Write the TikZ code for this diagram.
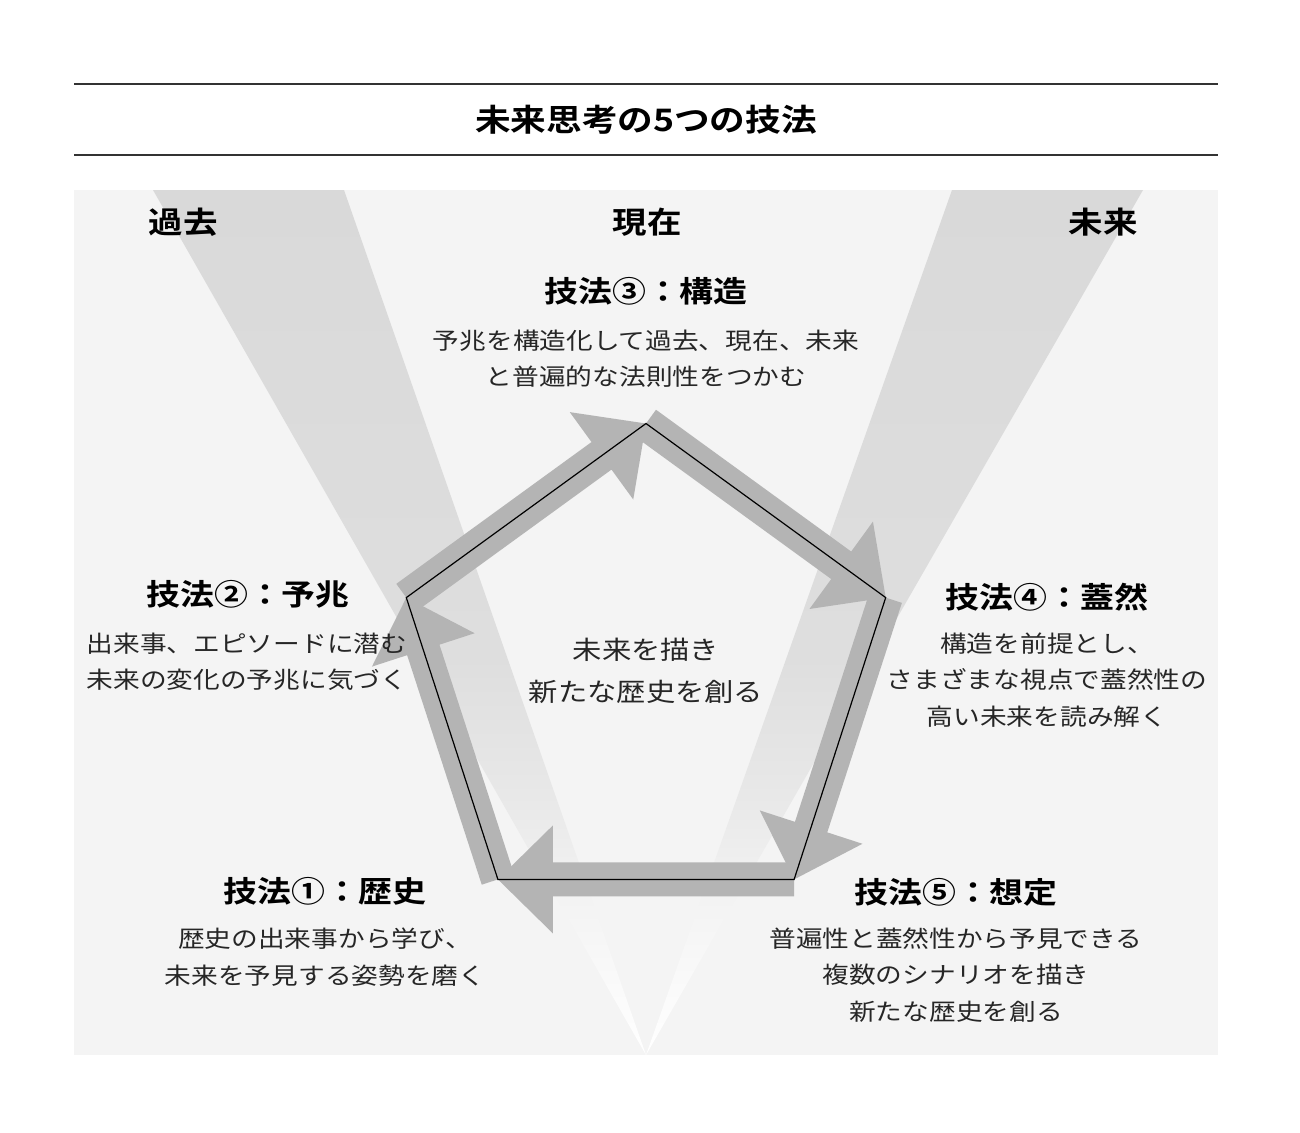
\documentclass[tikz,border=0pt]{standalone}
\usepackage{fontspec}
\setmainfont{Noto Sans CJK JP}[FakeStretch=1.15, BoldFont={Noto Sans CJK JP Bold}]
\usetikzlibrary{calc}
\definecolor{bgpanel}{HTML}{F4F4F4}
\definecolor{arrowgray}{HTML}{B4B4B4}
\definecolor{rulegray}{HTML}{333333}
\definecolor{bmA}{HTML}{F3F3F3}
\definecolor{bmB}{HTML}{E8E8E8}
\definecolor{bmC}{HTML}{DEDEDE}
\definecolor{bmD}{HTML}{D9D9D9}
\definecolor{bodytext}{HTML}{262626}
\pgfdeclareverticalshading{beamshade}{100bp}{color(0bp)=(white); color(25bp)=(white); color(34bp)=(bmA); color(40bp)=(bmB); color(48bp)=(bmC); color(75bp)=(bmD); color(100bp)=(bmD)}
\newcommand{\penarrow}[2]{%
  \coordinate (#1#2b) at ($(#2)!55pt!(#1)$);
  \fill[arrowfill] ($(#1)!17pt!90:(#2)$) -- ($(#1#2b)!17pt!90:(#2)$) -- ($(#1#2b)!54pt!90:(#2)$) -- (#2)
    -- ($(#1#2b)!54pt!-90:(#2)$) -- ($(#1#2b)!17pt!-90:(#2)$) -- ($(#1)!17pt!-90:(#2)$) -- cycle;
}
\tikzset{
  arrowfill/.style={fill=arrowgray},
  rulestyle/.style={draw=rulegray, line width=1.3pt},
  ttl/.style={font=\bfseries\fontsize{31}{36}\selectfont, text=black, inner sep=0pt},
  era/.style={font=\bfseries\fontsize{30}{36}\selectfont, text=black, inner sep=0pt},
  head/.style={font=\bfseries\fontsize{29.5}{36}\selectfont, text=black, inner sep=0pt},
  body/.style={font=\fontsize{23.2}{36.5}\selectfont, text=bodytext, align=center, inner sep=0pt},
  core/.style={font=\fontsize{25.5}{42}\selectfont, text=bodytext, align=center, inner sep=0pt},
}
\begin{document}
\begin{tikzpicture}[x=1pt,y=-1pt]
\useasboundingbox (0,0) rectangle (1300,1132);
\fill[white] (0,0) rectangle (1300,1132);
% rules
\draw[rulestyle] (74,84) -- (1218,84);
\draw[rulestyle] (74,155) -- (1218,155);
% panel
\fill[bgpanel] (74,190) rectangle (1218,1055);
% beams
\shade[shading=beamshade] (153,190) -- (344,190) -- (646,1055) -- cycle;
\shade[shading=beamshade] (952,190) -- (1143,190) -- (646,1055) -- cycle;
% pentagon vertices
\coordinate (p1) at (497.9,879.4);
\coordinate (p2) at (406.3,597.6);
\coordinate (p3) at (646,423.5);
\coordinate (p4) at (885.7,597.6);
\coordinate (p5) at (794.1,879.4);
% arrows
\penarrow{p1}{p2}
\penarrow{p2}{p3}
\penarrow{p3}{p4}
\penarrow{p4}{p5}
\penarrow{p5}{p1}
\draw[black, line width=1.2pt, line join=miter] (p1) -- (p2) -- (p3) -- (p4) -- (p5) -- cycle;
% texts
\node[ttl] (title) at (646,120) {未来思考の5つの技法};
\node[era] (past) at (183,222.5) {過去};
\node[era] (now) at (647,222.5) {現在};
\node[era] (future) at (1103,222.5) {未来};
\node[head] (h3) at (646,291.5) {技法③：構造};
\node[body] (b3) at (646,358.75) {予兆を構造化して過去、現在、未来\\と普遍的な法則性をつかむ};
\node[head] (h2) at (248,594) {技法②：予兆};
\node[body] (b2) at (247,661.75) {出来事、エピソードに潜む\\未来の変化の予兆に気づく};
\node[head] (h4) at (1047,597) {技法④：蓋然};
\node[body] (b4) at (1047,680) {構造を前提とし、\\さまざまな視点で蓋然性の\\高い未来を読み解く};
\node[head] (h1) at (325,891) {技法①：歴史};
\node[body] (b1) at (325,957.25) {歴史の出来事から学び、\\未来を予見する姿勢を磨く};
\node[head] (h5) at (956,892) {技法⑤：想定};
\node[body] (b5) at (956,975) {普遍性と蓋然性から予見できる\\複数のシナリオを描き\\新たな歴史を創る};
\node[core] (core) at (646,671) {未来を描き\\新たな歴史を創る};
\end{tikzpicture}
\end{document}
